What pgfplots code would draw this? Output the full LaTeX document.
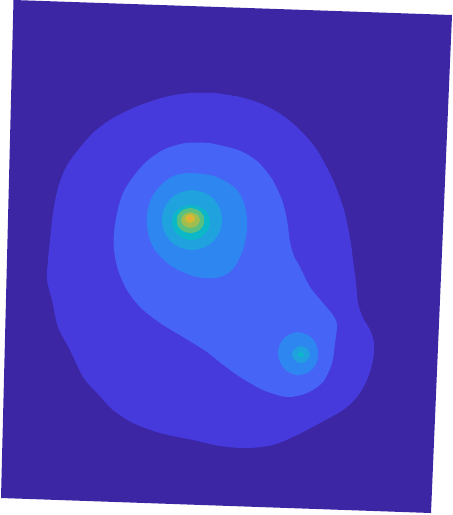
\documentclass[border=0pt]{standalone}
\usepackage{pgfplots}
\pgfplotsset{compat=1.18}
\definecolor{c1}{RGB}{60,38,164}
\definecolor{c2}{RGB}{70,58,221}
\definecolor{c3}{RGB}{70,100,246}
\definecolor{c4}{RGB}{46,134,240}
\definecolor{c5}{RGB}{32,162,222}
\definecolor{c6}{RGB}{12,184,200}
\definecolor{c7}{RGB}{90,192,128}
\definecolor{c8}{RGB}{160,190,80}
\definecolor{c9}{RGB}{216,184,50}
\definecolor{c10}{RGB}{240,168,60}
\begin{document}
\begin{tikzpicture}
\begin{axis}[
  scale only axis, width=4.53in, height=5.15in,
  xmin=0, xmax=453, ymin=0, ymax=515, y dir=reverse,
  hide axis, clip=false]
\addplot[fill=white, draw=none] coordinates {(0,0)(453,0)(453,515)(0,515)} -- cycle;
% background field
\addplot[fill=c1, draw=none] coordinates {(13.5,0)(452,15)(431,513)(1,498)} -- cycle;
% level 2
\addplot[fill=c2, draw=none, smooth, tension=0.5] coordinates {
(215,93)(240,97)(262,104)(282,115)(300,130)(317,150)(333,180)(344,210)(350,238)(353,260)(356,283)(358,303)(363,318)(370,330)(374,343)(373,360)(367,380)(357,397)(343,410)(320,423)(297,435)(273,445)(247,448)(220,446)(193,440)(160,433)(133,423)(113,410)(97,393)(83,377)(70,350)(58,327)(52,300)(47,280)(48,260)(50,240)(53,213)(58,188)(66,167)(78,150)(94,132)(113,118)(138,106)(165,97)(190,93)(215,93)} -- cycle;
% level 3
\addplot[fill=c3, draw=none, smooth, tension=0.5] coordinates {
(210,143)(238,150)(257,161)(272,179)(282,200)(287,220)(290,242)(294,256)(300,267)(310,287)(323,303)(333,315)(337,325)(335,343)(332,363)(323,382)(307,393)(287,397)(263,390)(240,377)(222,364)(207,352)(183,337)(160,323)(140,307)(127,290)(118,270)(114,250)(114,233)(117,213)(123,193)(133,177)(147,161)(165,149)(186,143)(210,143)} -- cycle;
% level 4 (peak 1)
\addplot[fill=c4, draw=none, smooth, tension=0.55] coordinates {
(190,173)(210,175)(225,181)(237,190)(244,203)(247,220)(246,237)(241,255)(232,270)(220,277)(205,278)(190,275)(170,265)(155,250)(148,233)(147,215)(152,197)(163,183)(176,175)(190,173)} -- cycle;
% level 5
\addplot[fill=c5, draw=none, smooth, tension=0.6] coordinates {
(192,190)(207,194)(218,205)(222,220)(218,235)(207,246)(192,250)(177,246)(166,235)(162,220)(166,205)(177,194)(192,190)} -- cycle;
% level 6
\addplot[fill=c6, draw=none, smooth, tension=0.6] coordinates {
(191,205)(201,207.5)(208,214)(210,222)(208,230)(201,237)(191,240)(181,237)(174,230)(172,222)(174,214)(181,207.5)(191,205)} -- cycle;
% level 7
\addplot[fill=c7, draw=none, smooth, tension=0.6] coordinates {
(190.5,208)(198,210)(203,215)(204,220.5)(203,226)(198,231)(190.5,233)(183,231)(178,226)(177,220.5)(178,215)(183,210)(190.5,208)} -- cycle;
% level 8
\addplot[fill=c8, draw=none, smooth, tension=0.6] coordinates {
(190.5,212)(197,214.5)(200,220)(197,225.5)(190.5,228)(184,225.5)(181,220)(184,214.5)(190.5,212)} -- cycle;
% level 9
\addplot[fill=c9, draw=none, smooth, tension=0.6] coordinates {
(190,214)(194,216)(195,218.5)(194,221)(190,223)(186,221)(185,218.5)(186,216)(190,214)} -- cycle;
% level 10
\addplot[fill=c10, draw=none, smooth, tension=0.6] coordinates {
(190,216.5)(192,218)(190,219.5)(188,218)(190,216.5)} -- cycle;
% level 4 (peak 2)
\addplot[fill=c4, draw=none, smooth, tension=0.6] coordinates {
(297,332)(308,335)(315,342)(318,353)(316,364)(309,372)(298,375)(288,372)(281,364)(278,353)(281,342)(288,335)(297,332)} -- cycle;
% level 5 (peak 2)
\addplot[fill=c5, draw=none, smooth, tension=0.6] coordinates {
(301,346)(307,348.5)(310,354.5)(307,360.5)(301,363)(295,360.5)(292,354.5)(295,348.5)(301,346)} -- cycle;
% level 6 (peak 2)
\addplot[fill=c6, draw=none, smooth, tension=0.6] coordinates {
(301,351.5)(304,354.5)(301,357.5)(298,354.5)(301,351.5)} -- cycle;
\end{axis}
\end{tikzpicture}
\end{document}
